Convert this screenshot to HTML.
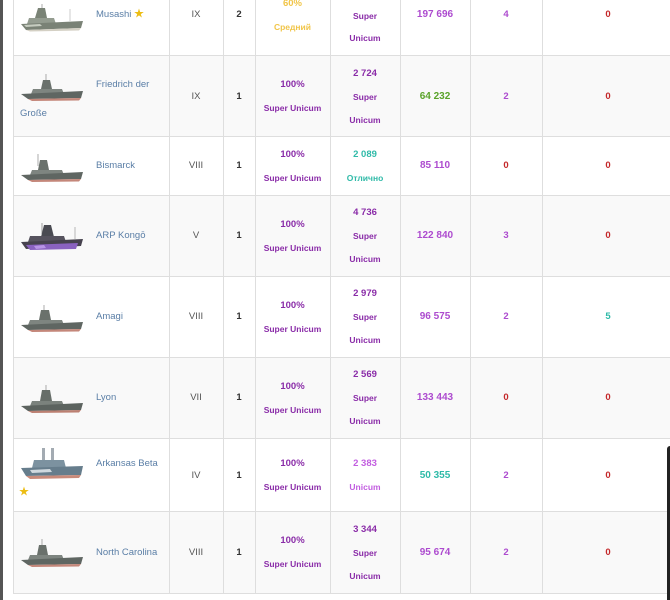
<!DOCTYPE html>
<html><head><meta charset="utf-8">
<style>
html,body{margin:0;padding:0;}
body{width:670px;height:600px;overflow:hidden;background:#fff;position:relative;font-family:"Liberation Sans","Noto Sans CJK JP",sans-serif;}
.bg{position:absolute;left:13px;width:657px;background:#f9f9f9;}
.h{position:absolute;left:13px;width:657px;height:1px;background:#dedede;}
.v{position:absolute;top:0;width:1px;height:594px;background:#dedede;}
.t{position:absolute;height:12px;line-height:12px;text-align:center;white-space:nowrap;font-size:9.5px;color:#555;margin-top:1px;}
.b{font-weight:bold;}
.l{font-size:8.5px;font-weight:bold;}
.c2{left:169px;width:54px}
.c3{left:223px;width:32px;color:#333;font-weight:bold}
.c4{left:255px;width:75px}
.c5{left:330px;width:70px}
.c6{left:400px;width:70px;font-size:10px}
.c7{left:470px;width:72px}
.c8{left:542px;width:132px}
.nm{position:absolute;left:96px;height:12px;line-height:12px;font-size:9.5px;color:#5a7ea6;white-space:nowrap;margin-top:1px;}
.su{color:#8a2ca8;font-weight:bold}
.un{color:#c25de0;font-weight:bold}
.pp{color:#ad4bcf;font-weight:bold}
.gr{color:#5aa32a;font-weight:bold}
.tl{color:#2fbaa8;font-weight:bold}
.rd{color:#c4282a;font-weight:bold}
.yl{color:#f1c548;font-weight:bold}
.s{position:absolute;left:20px;}
.star{color:#ecbd14;font-size:10px;}
</style></head><body>
<!-- stripes -->
<div class="bg" style="top:56px;height:80px"></div>
<div class="bg" style="top:196px;height:80px"></div>
<div class="bg" style="top:358px;height:80px"></div>
<div class="bg" style="top:512px;height:81px"></div>
<!-- horizontal lines -->
<div class="h" style="top:55px"></div>
<div class="h" style="top:136px"></div>
<div class="h" style="top:195px"></div>
<div class="h" style="top:276px"></div>
<div class="h" style="top:357px"></div>
<div class="h" style="top:438px"></div>
<div class="h" style="top:511px"></div>
<div class="h" style="top:593px"></div>
<!-- vertical lines -->
<div class="v" style="left:13px"></div>
<div class="v" style="left:169px"></div>
<div class="v" style="left:223px"></div>
<div class="v" style="left:255px"></div>
<div class="v" style="left:330px"></div>
<div class="v" style="left:400px"></div>
<div class="v" style="left:470px"></div>
<div class="v" style="left:542px"></div>
<!-- left dark stripe -->
<div style="position:absolute;left:0;top:0;width:3px;height:600px;background:#555"></div>
<!-- right dark element -->
<div style="position:absolute;left:667px;top:446px;width:3px;height:154px;background:#222;border-top-left-radius:3px"></div>

<!-- Row 1 Musashi -->
<svg class="s" style="top:3px" viewBox="0 0 64 34" width="64" height="34">
<line x1="22" y1="1" x2="22" y2="12" stroke="#888" stroke-width="0.7"/>
<line x1="50" y1="6" x2="50" y2="18" stroke="#999" stroke-width="0.5"/>
<polygon points="18,5 25,5 27,15 15,15" fill="#7a8376"/>
<polygon points="9,15 34,15 36,21 7,21" fill="#949c90"/>
<polygon points="1,21 63,18 61,25 6,27" fill="#7a8276"/>
<polygon points="4,22 20,21 22,23 6,24" fill="#c6ccc0"/>
<polygon points="6,27 61,25 59,27.5 10,28.5" fill="#d4d0c4"/>
</svg>
<div class="nm" style="top:8px">Musashi <span class="star">★</span></div>
<div class="t c2" style="top:8px">IX</div>
<div class="t c3" style="top:8px">2</div>
<div class="t c4 yl" style="top:-3px">60%</div>
<div class="t c4 yl l" style="top:20px">Средний</div>
<div class="t c5 su l" style="top:9px">Super</div>
<div class="t c5 su l" style="top:31px">Unicum</div>
<div class="t c6 pp" style="top:8px">197 696</div>
<div class="t c7 pp" style="top:8px">4</div>
<div class="t c8 rd" style="top:8px">0</div>

<!-- Row 2 Friedrich -->
<svg class="s" style="top:72px" viewBox="0 0 64 34" width="64" height="34">
<line x1="26" y1="2" x2="26" y2="13" stroke="#888" stroke-width="0.7"/>
<polygon points="23,8 30,8 32,17 21,17" fill="#6a716c"/>
<polygon points="13,17 42,17 44,22 11,22" fill="#7e8580"/>
<polygon points="1,22 63,19 61,26 8,27" fill="#5f6662"/>
<polygon points="8,27 61,26 59,28.5 12,29" fill="#c4877a"/>
</svg>
<div class="nm" style="top:78px">Friedrich der</div>
<div class="nm" style="top:107px;left:20px">Große</div>
<div class="t c2" style="top:90px">IX</div>
<div class="t c3" style="top:90px">1</div>
<div class="t c4 su" style="top:78px">100%</div>
<div class="t c4 su l" style="top:101px">Super Unicum</div>
<div class="t c5 su" style="top:67px">2 724</div>
<div class="t c5 su l" style="top:90px">Super</div>
<div class="t c5 su l" style="top:113px">Unicum</div>
<div class="t c6 gr" style="top:90px">64 232</div>
<div class="t c7 pp" style="top:90px">2</div>
<div class="t c8 rd" style="top:90px">0</div>

<!-- Row 3 Bismarck -->
<svg class="s" style="top:153px" viewBox="0 0 64 34" width="64" height="34">
<line x1="18" y1="1" x2="18" y2="13" stroke="#888" stroke-width="0.7"/>
<polygon points="20,7 27,7 29,17 18,17" fill="#6a716c"/>
<polygon points="12,17 42,17 44,22 10,22" fill="#7e8580"/>
<polygon points="1,22 63,19 61,26 8,27" fill="#5f6662"/>
<polygon points="8,27 61,26 59,28.5 12,29" fill="#c4877a"/>
</svg>
<div class="nm" style="top:159px">Bismarck</div>
<div class="t c2" style="top:159px">VIII</div>
<div class="t c3" style="top:159px">1</div>
<div class="t c4 su" style="top:148px">100%</div>
<div class="t c4 su l" style="top:171px">Super Unicum</div>
<div class="t c5 tl" style="top:148px">2 089</div>
<div class="t c5 tl l" style="top:171px">Отлично</div>
<div class="t c6 pp" style="top:159px">85 110</div>
<div class="t c7 rd" style="top:159px">0</div>
<div class="t c8 rd" style="top:159px">0</div>

<!-- Row 4 ARP Kongo -->
<svg class="s" style="top:221px" viewBox="0 0 64 34" width="64" height="34">
<line x1="22" y1="2" x2="22" y2="13" stroke="#777" stroke-width="0.7"/>
<line x1="55" y1="6" x2="55" y2="18" stroke="#777" stroke-width="0.5"/>
<polygon points="24,4 31,4 34,16 21,16" fill="#4a4b52"/>
<polygon points="10,15 44,15 46,21 8,21" fill="#56535e"/>
<polygon points="1,21 63,18 61,25 6,28" fill="#46424e"/>
<polygon points="6,24 58,22 56,28 10,29" fill="#8a62c0"/>
<polygon points="14,25 24,24 26,27 16,28" fill="#b894e6"/>
</svg>
<div class="nm" style="top:229px">ARP Kongō</div>
<div class="t c2" style="top:229px">V</div>
<div class="t c3" style="top:229px">1</div>
<div class="t c4 su" style="top:218px">100%</div>
<div class="t c4 su l" style="top:241px">Super Unicum</div>
<div class="t c5 su" style="top:206px">4 736</div>
<div class="t c5 su l" style="top:229px">Super</div>
<div class="t c5 su l" style="top:252px">Unicum</div>
<div class="t c6 pp" style="top:229px">122 840</div>
<div class="t c7 pp" style="top:229px">3</div>
<div class="t c8 rd" style="top:229px">0</div>

<!-- Row 5 Amagi -->
<svg class="s" style="top:303px" viewBox="0 0 64 34" width="64" height="34">
<line x1="24" y1="2" x2="24" y2="12" stroke="#888" stroke-width="0.7"/>
<polygon points="21,7 29,7 31,17 19,17" fill="#6a716c"/>
<polygon points="10,17 42,17 44,22 8,22" fill="#7e8580"/>
<polygon points="1,22 63,19 61,26 8,27" fill="#5f6662"/>
<polygon points="8,27 61,26 59,28.5 12,29" fill="#c4877a"/>
</svg>
<div class="nm" style="top:310px">Amagi</div>
<div class="t c2" style="top:310px">VIII</div>
<div class="t c3" style="top:310px">1</div>
<div class="t c4 su" style="top:299px">100%</div>
<div class="t c4 su l" style="top:322px">Super Unicum</div>
<div class="t c5 su" style="top:287px">2 979</div>
<div class="t c5 su l" style="top:310px">Super</div>
<div class="t c5 su l" style="top:333px">Unicum</div>
<div class="t c6 pp" style="top:310px">96 575</div>
<div class="t c7 pp" style="top:310px">2</div>
<div class="t c8 tl" style="top:310px">5</div>

<!-- Row 6 Lyon -->
<svg class="s" style="top:384px" viewBox="0 0 64 34" width="64" height="34">
<line x1="26" y1="1" x2="26" y2="12" stroke="#888" stroke-width="0.7"/>
<polygon points="22,6 30,6 32,17 20,17" fill="#676e69"/>
<polygon points="12,17 42,17 44,22 10,22" fill="#7b827d"/>
<polygon points="1,22 63,19 61,26 8,27" fill="#5c635f"/>
<polygon points="8,27 61,26 59,28.5 12,29" fill="#bc8072"/>
</svg>
<div class="nm" style="top:391px">Lyon</div>
<div class="t c2" style="top:391px">VII</div>
<div class="t c3" style="top:391px">1</div>
<div class="t c4 su" style="top:380px">100%</div>
<div class="t c4 su l" style="top:403px">Super Unicum</div>
<div class="t c5 su" style="top:368px">2 569</div>
<div class="t c5 su l" style="top:391px">Super</div>
<div class="t c5 su l" style="top:414px">Unicum</div>
<div class="t c6 pp" style="top:391px">133 443</div>
<div class="t c7 rd" style="top:391px">0</div>
<div class="t c8 rd" style="top:391px">0</div>

<!-- Row 7 Arkansas Beta -->
<svg class="s" style="top:446px" viewBox="0 0 64 38" width="64" height="38">
<rect x="22" y="2" width="3" height="14" fill="#a3abb2"/>
<rect x="31" y="2" width="3" height="14" fill="#a3abb2"/>
<polygon points="14,14 44,14 46,22 12,22" fill="#7c92a0"/>
<polygon points="1,22 63,20 61,29 6,30" fill="#667d8c"/>
<polygon points="10,24 30,23 32,26 12,27" fill="#d0d9df"/>
<polygon points="6,30 61,29 59,32 10,33" fill="#c88a7a"/>
</svg>
<div class="nm" style="top:457px">Arkansas Beta</div>
<div class="star" style="position:absolute;left:19px;top:487px;line-height:12px">★</div>
<div class="t c2" style="top:469px">IV</div>
<div class="t c3" style="top:469px">1</div>
<div class="t c4 su" style="top:457px">100%</div>
<div class="t c4 su l" style="top:480px">Super Unicum</div>
<div class="t c5 un" style="top:457px">2 383</div>
<div class="t c5 un l" style="top:480px">Unicum</div>
<div class="t c6 tl" style="top:469px">50 355</div>
<div class="t c7 pp" style="top:469px">2</div>
<div class="t c8 rd" style="top:469px">0</div>

<!-- Row 8 North Carolina -->
<svg class="s" style="top:538px" viewBox="0 0 64 34" width="64" height="34">
<line x1="22" y1="1" x2="22" y2="13" stroke="#888" stroke-width="0.7"/>
<polygon points="19,7 26,7 28,17 17,17" fill="#6a716c"/>
<polygon points="10,17 42,17 44,22 8,22" fill="#7e8580"/>
<polygon points="1,22 63,19 61,26 8,27" fill="#5f6662"/>
<polygon points="8,27 61,26 59,28.5 12,29" fill="#c4877a"/>
</svg>
<div class="nm" style="top:546px">North Carolina</div>
<div class="t c2" style="top:546px">VIII</div>
<div class="t c3" style="top:546px">1</div>
<div class="t c4 su" style="top:534px">100%</div>
<div class="t c4 su l" style="top:557px">Super Unicum</div>
<div class="t c5 su" style="top:523px">3 344</div>
<div class="t c5 su l" style="top:546px">Super</div>
<div class="t c5 su l" style="top:569px">Unicum</div>
<div class="t c6 pp" style="top:546px">95 674</div>
<div class="t c7 pp" style="top:546px">2</div>
<div class="t c8 rd" style="top:546px">0</div>
</body></html>
